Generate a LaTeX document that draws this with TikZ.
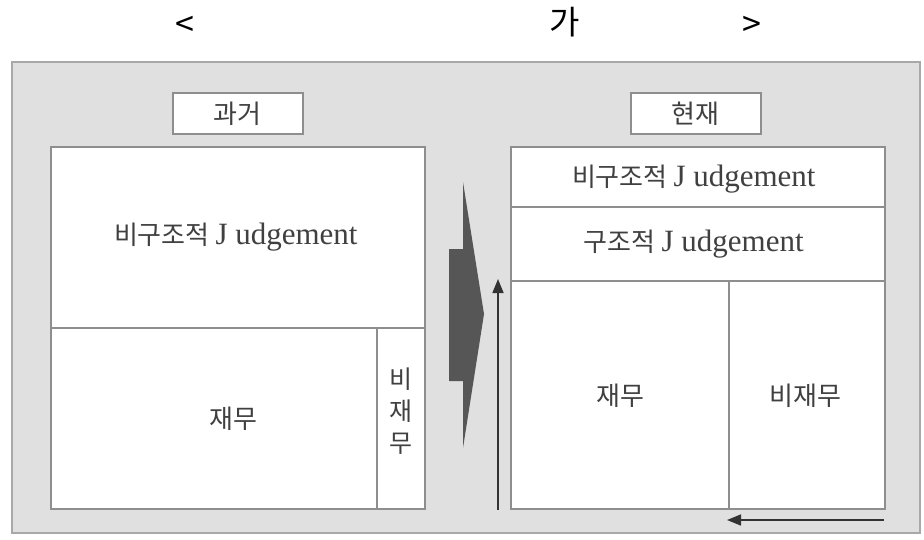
\documentclass[tikz,border=0pt]{standalone}
\usepackage{fontspec}
\setmainfont{Liberation Serif}
\newfontfamily\kor{Noto Sans CJK KR}
\usetikzlibrary{calc}
\usetikzlibrary{arrows.meta}
\usetikzlibrary{positioning}
\definecolor{bggray}{HTML}{E0E0E0}
\definecolor{edgegray}{HTML}{A8A8A8}
\definecolor{boxline}{HTML}{8E8E8E}
\definecolor{bigarrow}{HTML}{565656}
\newcommand{\jtext}{\fontsize{31}{33}\selectfont\rmfamily J udgement}
\begin{document}
\begin{tikzpicture}[x=1pt,y=-1pt,
  cell/.style={rectangle, draw=boxline, line width=1.6pt, fill=white, inner sep=0pt, anchor=north west},
  lbl/.style={font=\fontsize{26}{28}\selectfont\kor, text=black!75},
  trend/.style={>={Triangle[length=14pt,width=11pt]}, line width=1.6pt, black!80, ->}]
    \useasboundingbox (0,0) rectangle (924,539);
    % title
    \node[font=\fontsize{34}{36}\selectfont\kor] (lt) at (185,26) {<};
    \node[font=\fontsize{33}{35}\selectfont\kor] (ga) at (565,22) {가};
    \node[font=\fontsize{34}{36}\selectfont\kor] (gt) at (752,26) {>};
    % background panel
    \draw[edgegray, fill=bggray, line width=1.6pt] (12,62) rectangle (920,533);
    % past
    \node[cell, minimum width=130pt, minimum height=41pt] (pastlbl) at (172,92) {};
    \node[lbl] at (pastlbl.center) {과거};
    \node[cell, minimum width=374pt, minimum height=181pt] (pastjud) at (50,146) {};
    \node[cell, minimum width=326pt, minimum height=181pt] (pastfin) at (50,327) {};
    \node[cell, minimum width=48pt, minimum height=181pt] (pastnon) at (376,327) {};
    \node[lbl] at ($(pastjud.center)+(-2,0)$) {비구조적 \jtext};
    \node[lbl] at ($(pastfin.center)+(20,0)$) {재무};
    \node[lbl, align=center, font=\fontsize{25}{32}\selectfont\kor] at ($(pastnon.center)+(0,-7)$) {비\\재\\무};
    % big arrow
    \fill[bigarrow] (449,249) -- (463,249) -- (463,182) -- (484,314) -- (463,448) -- (463,381) -- (449,381) -- cycle;
    % present
    \node[cell, minimum width=130pt, minimum height=41pt] (nowlbl) at (630,92) {};
    \node[lbl] at (nowlbl.center) {현재};
    \node[cell, minimum width=374pt, minimum height=60pt] (nownon) at (510,146) {};
    \node[cell, minimum width=374pt, minimum height=74pt] (nowstr) at (510,206) {};
    \node[cell, minimum width=218pt, minimum height=228pt] (nowfin) at (510,280) {};
    \node[cell, minimum width=156pt, minimum height=228pt] (nowfin2) at (728,280) {};
    \node[lbl] at ($(nownon.center)+(-4,2)$) {비구조적 \jtext};
    \node[lbl] at ($(nowstr.center)+(-4,0)$) {구조적 \jtext};
    \node[lbl] at ($(nowfin.center)+(1,1)$) {재무};
    \node[lbl] at ($(nowfin2.center)+(-1,1)$) {비재무};
    % trend arrows
    \coordinate (upfrom) at (498,510);
    \coordinate (upto) at (498,279);
    \coordinate (lefrom) at (884,520);
    \coordinate (leto) at (727,520);
    \draw[trend] (upfrom) -- (upto);
    \draw[trend] (lefrom) -- (leto);
\end{tikzpicture}
\end{document}
